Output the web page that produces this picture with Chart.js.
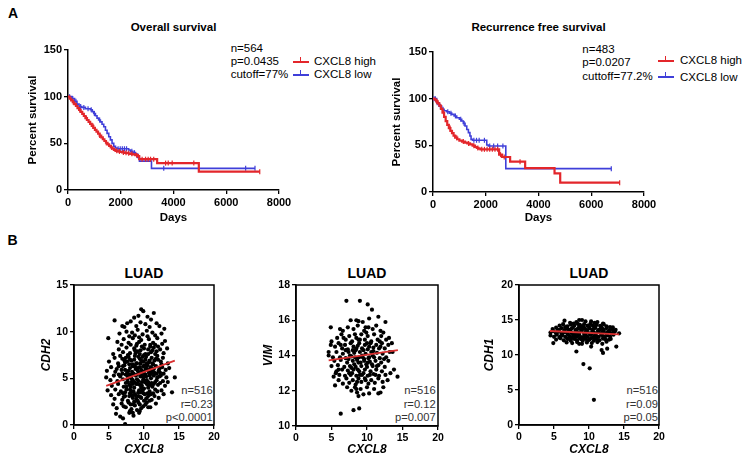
<!DOCTYPE html>
<html>
<head>
<meta charset="utf-8">
<script src="https://cdn.jsdelivr.net/npm/chart.js@4.4.1/dist/chart.umd.min.js"></script>
<style>
  body { margin: 0; background: #fff; }
  #fig { position: relative; width: 750px; height: 462px; overflow: hidden; background: #fff;
         font-family: "Liberation Sans", Arial, sans-serif; color: #000; }
  canvas { position: absolute; }
  .t { position: absolute; white-space: nowrap; line-height: 1; }
  .b { font-weight: bold; }
  .c { transform: translateX(-50%); }
  .r { transform: translateX(-100%); }
  .st { font-size: 11.5px; }
  .an { font-size: 11.2px; color: #333; }
  .ttl { font-size: 11.5px; font-weight: bold; }
  .luad { font-size: 14px; font-weight: bold; }
  .sw { position: absolute; width: 16px; height: 0; border-top: 2px solid currentColor; }
  .sw::after { content: ''; position: absolute; left: 7px; top: -6px; height: 5px; border-left: 1.5px solid currentColor; }
</style>
</head>
<body>
<div id="fig">
  <div class="t b" style="left:8px;top:6.4px;font-size:14px">A</div>
  <div class="t b" style="left:7.5px;top:233px;font-size:14px">B</div>

  <div class="t ttl c" style="left:173.5px;top:22px">Overall survival</div>
  <div class="t ttl c" style="left:538.5px;top:22px">Recurrence free survival</div>

  <div class="t st" style="left:230.7px;top:42.7px">n=564</div>
  <div class="t st" style="left:230.7px;top:56.1px">p=0.0435</div>
  <div class="t st" style="left:230.7px;top:69.4px">cutoff=77%</div>
  <div class="sw" style="left:293px;top:60.7px;color:#e3262b"></div>
  <div class="sw" style="left:293px;top:74px;color:#3f3fd9"></div>
  <div class="t st" style="left:314px;top:56.1px">CXCL8 high</div>
  <div class="t st" style="left:314px;top:69.4px">CXCL8 low</div>

  <div class="t st" style="left:582.3px;top:44.4px">n=483</div>
  <div class="t st" style="left:582.3px;top:57.1px">p=0.0207</div>
  <div class="t st" style="left:582.3px;top:71.1px">cuttoff=77.2%</div>
  <div class="sw" style="left:658px;top:60px;color:#e3262b"></div>
  <div class="sw" style="left:658px;top:76.3px;color:#3f3fd9"></div>
  <div class="t st" style="left:680px;top:55.4px">CXCL8 high</div>
  <div class="t st" style="left:680px;top:71.7px">CXCL8 low</div>

  <div class="t luad c" style="left:144px;top:266px">LUAD</div>
  <div class="t luad c" style="left:367px;top:266px">LUAD</div>
  <div class="t luad c" style="left:589px;top:266px">LUAD</div>

  <div class="t an r" style="left:212.7px;top:385px">n=516</div>
  <div class="t an r" style="left:212.7px;top:398.5px">r=0.23</div>
  <div class="t an r" style="left:212.7px;top:411.8px">p&lt;0.0001</div>
  <div class="t an r" style="left:435.7px;top:385px">n=516</div>
  <div class="t an r" style="left:435.7px;top:398.5px">r=0.12</div>
  <div class="t an r" style="left:435.7px;top:411.8px">p=0.007</div>
  <div class="t an r" style="left:658px;top:385px">n=516</div>
  <div class="t an r" style="left:658px;top:398.5px">r=0.09</div>
  <div class="t an r" style="left:658px;top:411.8px">p=0.05</div>

  <canvas id="os" width="294" height="195" style="left:0px;top:30px"></canvas>
  <canvas id="rfs" width="284" height="195" style="left:375px;top:30px"></canvas>
  <canvas id="cdh2" width="194" height="182" style="left:30px;top:275px"></canvas>
  <canvas id="vim" width="198" height="182" style="left:250px;top:275px"></canvas>
  <canvas id="cdh1" width="194" height="182" style="left:475px;top:275px"></canvas>
</div>
<script>
// Kaplan-Meier steps (days, percent surviving)
const osHighDays = [0,60,120,180,240,300,360,420,480,540,600,660,720,780,840,900,960,1020,1080,1140,1200,1260,1320,1380,1440,1500,1560,1620,1680,1740,1800,1880,1960,2050,2150,2250,2350,2450,2550,2650,2700,3380,4960,7270];
const osHighPct = [100,98,96,94,92,90,87.8,85.7,83.6,81.5,79.3,77.1,75,73,70.8,68.7,66.5,64.5,62.5,60.3,58.3,56.3,54.4,52.5,50.6,48.8,47.2,45.7,44.3,43,42,41.3,40.8,40.3,39.8,39.4,38.8,38.1,37.3,36.2,33,28.8,19.6,19.6];
const osHighCensor = [200,450,700,950,1200,1450,1650,1850,1950,2100,2200,2300,2420,2600,2810,2940,3040,3130,3250,3700,3800,3950,4770,7270];

const osLowDays = [0,150,250,340,420,520,660,850,920,975,1040,1100,1160,1228,1290,1355,1420,1481,1545,1608,1670,1734,1800,1861,2300,2367,2460,2557,2640,2709,3165,7090];
const osLowPct = [100,98,95,92,89.5,88.5,87,86,84,82,79.5,77,75,73,70.5,67.7,64,60.7,57,53.7,50,46.7,45,44.2,42.8,41.4,40,38.6,35,30.9,23.2,23.2];
const osLowCensor = [60,180,300,480,600,760,880,1000,1200,1900,1980,2060,2140,2220,2420,2520,3630,6735,7090];

const rfsHighDays = [0,60,120,180,240,300,360,420,480,540,600,660,720,780,840,920,1000,1100,1215,1300,1405,1500,1595,1660,1722,1800,2507,2620,2924,3494,4608,4823,7077];
const rfsHighPct = [100,99,97,95,92.5,89,85,80.5,76,72,68.5,65.5,63,60.5,58.2,56.5,55,54,52.9,52,51,49.6,48.2,47.2,46.4,45.7,40,37.5,32.5,25.5,20,10,10];
const rfsHighCensor = [150,400,650,900,1150,1350,1550,1700,1850,1950,2050,2150,2250,2350,2450,2560,2700,3300,7077];

const rfsLowDays = [0,139,230,329,420,519,620,709,800,899,1000,1089,1150,1215,1280,1342,1400,1443,1500,2038,2100,2760,6760];
const rfsLowPct = [100,95.7,92,88.6,87,86,84.5,83.2,81.5,79.6,78,76,73.5,70.7,67,63.6,60,56.4,55.4,50.4,49.3,25,25];
const rfsLowCensor = [40,90,160,280,380,560,680,850,1050,1180,1550,1650,1750,1950,2150,2300,2450,2650,6760];

// scatter points [CXCL8, gene]
const cdh2Pts = [[9.6,12.4],[9.9,12.2],[11.4,12.0],[8.6,11.5],[10.5,11.6],[11.0,11.3],[9.2,11.7],
  [5.8,11.2],[7.6,10.9],[8.1,11.1],[9.5,11.0],[10.2,10.8],[11.8,10.9],[12.2,10.6],[7.2,10.5],[8.9,10.6],[10.8,10.5],[6.9,10.6],
  [6.5,9.8],[7.5,10.0],[8.3,9.9],[9.1,10.2],[9.8,9.7],[10.4,10.1],[11.2,9.9],[12.5,9.8],[12.9,10.3],[8.7,9.6],[11.6,9.6],[7.9,9.5],
  [4.9,9.3],[6.2,8.9],[7.1,9.2],[7.8,8.8],[8.4,9.3],[9.0,8.7],[9.6,9.1],[10.1,8.6],[10.7,9.2],[11.3,8.8],[11.9,9.3],[12.6,8.7],[13.0,9.0],[8.1,8.6],[9.3,9.4],[10.9,8.6],[6.8,8.6],
  [5.6,7.6],[6.4,8.1],[7.0,7.8],[7.5,8.3],[8.0,7.7],[8.6,8.2],[9.1,7.9],[9.7,8.4],[10.2,7.6],[10.6,8.1],[11.0,7.8],[11.4,8.3],[11.8,7.9],[12.3,8.1],[12.8,7.7],[13.3,8.2],[9.4,7.6],[10.9,8.4],[7.7,7.5],[8.9,8.5],[11.6,7.6],[12.0,8.4],
  [5.0,6.8],[5.8,7.2],[6.3,6.6],[6.9,7.1],[7.3,6.7],[7.8,7.3],[8.2,6.9],[8.7,7.4],[9.0,6.6],[9.4,7.1],[9.9,6.8],[10.3,7.3],[10.7,6.7],[11.1,7.2],[11.5,6.9],[11.9,7.4],[12.4,6.8],[12.7,7.2],[13.4,6.6],[8.4,6.5],[10.0,7.5],[11.3,6.5],[6.6,7.4],[9.6,6.9],
  [4.7,5.8],[5.3,6.2],[5.9,5.7],[6.4,6.3],[6.8,5.9],[7.2,6.4],[7.6,5.6],[8.0,6.1],[8.3,5.7],[8.7,6.3],[9.1,5.8],[9.4,6.2],[9.8,5.6],[10.1,6.4],[10.5,5.9],[10.9,6.1],[11.3,5.7],[11.7,6.3],[12.1,5.8],[12.6,6.2],[13.1,5.9],[13.6,6.1],[7.9,6.5],[9.6,5.9],[11.0,5.5],[8.5,5.5],[10.3,6.1],[12.3,5.6],
  [4.6,5.1],[5.2,4.8],[5.7,5.3],[6.2,4.7],[6.6,5.2],[7.0,4.9],[7.4,5.4],[7.7,4.6],[8.1,5.1],[8.4,4.8],[8.8,5.3],[9.2,4.7],[9.5,5.2],[9.9,4.9],[10.2,5.4],[10.6,4.6],[11.0,5.0],[11.4,5.3],[11.8,4.8],[12.2,5.2],[12.7,4.7],[13.2,5.1],[14.4,5.1],[7.9,5.4],[9.7,4.6],[10.8,5.3],[8.6,4.6],[6.4,5.4],[11.6,4.6],
  [4.8,3.7],[5.4,4.2],[5.9,3.8],[6.3,4.4],[6.7,3.6],[7.1,4.1],[7.5,3.8],[7.9,4.3],[8.2,3.6],[8.6,4.0],[9.0,4.4],[9.3,3.7],[9.7,4.2],[10.0,3.9],[10.4,4.4],[10.8,3.6],[11.2,4.1],[11.6,3.8],[12.0,4.3],[12.5,3.7],[13.0,4.2],[14.0,3.5],[8.4,4.4],[9.5,3.5],[10.6,4.0],[7.3,3.5],[11.9,3.6],
  [5.3,3.2],[5.8,2.8],[6.4,3.3],[6.9,2.7],[7.3,3.1],[7.7,2.6],[8.0,3.4],[8.4,2.9],[8.8,3.2],[9.1,2.6],[9.5,3.0],[9.9,3.4],[10.3,2.8],[10.7,3.2],[11.1,2.7],[11.5,3.1],[12.1,2.9],[12.8,3.3],[8.6,2.5],[10.0,2.6],[7.0,3.4],
  [5.6,2.2],[6.1,1.8],[6.8,2.3],[7.4,1.9],[7.8,2.4],[8.2,1.7],[8.7,2.1],[9.2,2.4],[9.6,1.8],[10.2,2.2],[10.9,1.9],[11.7,2.3],[8.0,1.5],[9.0,1.6],
  [6.0,1.2],[6.6,0.9],[7.3,0.1],[7.9,1.3],[8.5,1.0],[9.3,1.3],[7.0,0.7],
  [8.2,5.0],[8.9,4.4],[9.3,5.6],[9.9,5.2],[10.4,4.8],[10.7,5.6],[8.5,3.6],[9.2,3.1],[9.8,3.7],[10.5,3.4],[8.8,6.0],[9.5,6.6],[10.2,6.0],[10.8,6.9],[7.6,4.9],[7.3,5.9],[8.1,4.1],[11.1,4.5],[11.4,6.0],[8.6,7.0],[9.2,7.3],[10.6,7.6],[11.2,8.0],[12.0,7.0],[7.9,3.1],[8.9,2.8],[10.4,2.4],[11.3,3.4],[7.6,6.8],[9.0,5.4],
  [7.4,4.5],[8.3,5.4],[9.4,4.3],[10.1,4.6],[10.9,4.3],[11.5,5.6],[12.4,5.3],[7.2,6.9],[8.0,7.0],[9.8,7.3],[10.4,6.6],[11.7,7.1],[8.7,8.0],[10.0,8.2],[9.3,8.9],[10.5,9.5],[7.4,7.2],[6.9,5.5],[6.1,6.0],[12.8,5.5],[12.3,4.5],[13.4,4.6],[11.0,3.3],[9.6,2.9],[8.1,2.2],[7.1,2.0],[10.6,1.9],[9.9,6.3],[8.9,6.6],[11.6,8.6],
  [7.8,5.8],[8.4,6.3],[9.0,4.9],[9.6,4.0],[10.3,5.2],[10.9,5.8],[11.2,6.6],[8.0,3.8],[8.7,3.3],[9.4,2.2],[10.1,3.3],[10.8,2.6],[11.4,4.4],[7.5,4.1],[8.2,4.6],[9.1,6.1],[9.7,5.5],[10.5,6.4],[11.8,5.5],[12.5,6.5],[8.5,2.2],[9.9,2.0],[7.1,3.0],[11.0,6.2],[8.8,7.7],[10.2,7.0],[9.5,8.0],[12.2,6.0],[7.7,5.2],[10.6,4.3],[9.2,3.5],[8.3,3.2],[10.0,5.7],[11.9,5.1],[7.0,6.3],[9.4,1.5],[8.4,1.3],[10.5,3.0]];

const vimPts = [[7.1,17.1],[9.0,17.1],[10.1,16.9],[10.7,16.6],
  [8.5,16.0],[8.8,15.95],[11.6,16.2],[12.6,15.9],[10.3,16.1],[9.4,15.9],[7.7,16.0],
  [4.9,15.6],[6.6,15.4],[7.3,15.6],[8.1,15.5],[8.7,15.7],[9.6,15.4],[10.2,15.6],[10.8,15.5],[11.3,15.7],[11.9,15.4],[12.3,15.3],[6.2,15.5],
  [5.8,15.0],[6.4,15.2],[7.0,14.9],[7.5,15.1],[7.9,14.8],[8.3,15.2],[8.8,14.9],[9.2,15.2],[9.7,14.9],[10.1,15.1],[10.6,14.8],[11.0,15.2],[11.5,14.9],[12.0,15.1],[12.7,14.9],[13.1,15.0],[5.0,14.8],[8.5,15.0],[9.9,15.3],[11.8,14.8],
  [4.9,14.6],[5.5,14.5],[6.0,14.7],[6.5,14.4],[6.9,14.6],[7.3,14.35],[7.7,14.7],[8.1,14.5],[8.5,14.4],[8.9,14.7],[9.3,14.4],[9.7,14.6],[10.1,14.35],[10.5,14.7],[10.9,14.45],[11.3,14.6],[11.7,14.4],[12.1,14.7],[12.5,14.4],[13.0,14.6],[13.5,14.7],[8.7,14.55],[10.3,14.5],[6.3,14.6],
  [4.6,14.2],[4.6,14.0],[5.2,13.9],[5.7,14.2],[6.2,13.9],[6.6,14.1],[7.0,13.85],[7.4,14.2],[7.8,13.95],[8.2,14.15],[8.6,13.85],[9.0,14.2],[9.4,13.9],[9.8,14.1],[10.2,13.85],[10.6,14.2],[11.0,13.9],[11.4,14.15],[11.8,13.85],[12.2,14.1],[12.7,13.9],[13.2,14.2],[8.4,14.3],[9.6,13.8],[10.9,14.25],[7.2,14.3],
  [5.0,13.4],[5.4,13.7],[5.9,13.45],[6.3,13.75],[6.8,13.35],[7.2,13.6],[7.6,13.4],[8.0,13.7],[8.4,13.35],[8.8,13.6],[9.2,13.4],[9.6,13.7],[10.0,13.35],[10.4,13.65],[10.8,13.4],[11.2,13.7],[11.6,13.45],[12.0,13.6],[12.5,13.35],[13.0,13.7],[13.8,13.2],[8.6,13.75],[9.9,13.5],[7.4,13.8],
  [5.3,12.8],[5.7,13.1],[6.1,12.9],[6.5,13.2],[6.9,12.85],[7.3,13.15],[7.7,12.9],[8.1,13.2],[8.5,12.85],[8.9,13.1],[9.3,12.9],[9.7,13.2],[10.1,12.85],[10.5,13.1],[10.9,12.95],[11.3,13.2],[11.7,12.85],[12.1,13.1],[12.6,12.9],[13.3,13.0],[14.3,12.8],[9.5,13.0],[7.9,13.0],
  [5.5,12.3],[6.0,12.6],[6.6,12.4],[7.1,12.7],[7.5,12.45],[8.0,12.6],[8.4,12.35],[8.8,12.7],[9.2,12.5],[9.7,12.7],[10.2,12.4],[10.6,12.6],[11.1,12.45],[11.6,12.7],[12.2,12.5],[12.9,12.6],[8.6,12.5],
  [7.2,12.2],[7.8,12.0],[8.3,12.2],[8.6,11.9],[9.1,12.1],[9.5,11.8],[10.3,11.85],[10.0,12.2],[11.0,12.1],[11.6,11.85],[11.9,11.9],[8.8,11.7],
  [6.3,10.7],[8.1,10.9],[8.9,11.0],
  [8.3,13.9],[9.1,13.6],[9.5,14.3],[8.7,13.2],[10.3,13.9],[10.0,14.7],[7.6,14.0],[9.0,12.9],[10.7,13.5],[8.0,14.3],[9.8,12.6],[11.4,13.4],
  [8.2,13.5],[9.3,14.0],[10.1,13.6],[10.8,14.0],[9.0,14.9],[7.8,13.3],[11.2,12.9],[8.5,12.1],[9.8,15.6],[7.0,14.3],[6.0,13.2],[12.4,13.8],[13.6,14.2],[12.3,12.2],[7.5,13.0],[10.4,12.9],[8.9,13.9],[11.9,14.5],[6.7,15.0],[5.6,13.0]];

const cdh1Pts = [[6.5,14.9],[8.6,15.0],[9.0,15.0],[7.3,14.6],[8.2,14.7],[9.5,14.8],[10.3,14.8],[11.2,14.7],[10.8,14.6],[7.8,14.5],[12.0,14.5],
  [5.8,14.2],[6.3,14.4],[6.9,14.1],[7.4,14.35],[7.9,14.2],[8.4,14.45],[8.9,14.1],[9.3,14.4],[9.8,14.2],[10.2,14.45],[10.7,14.1],[11.1,14.3],[11.6,14.15],[12.1,14.4],[12.5,14.1],[13.0,14.0],[13.4,13.95],[8.7,14.3],[10.0,14.0],[6.6,14.0],
  [4.8,13.7],[5.3,13.9],[5.7,13.6],[6.1,13.85],[6.5,13.55],[6.9,13.8],[7.3,13.6],[7.7,13.9],[8.1,13.55],[8.5,13.8],[8.9,13.6],[9.3,13.9],[9.7,13.55],[10.1,13.8],[10.5,13.6],[10.9,13.9],[11.3,13.55],[11.7,13.8],[12.1,13.6],[12.5,13.85],[12.9,13.55],[13.3,13.7],[13.8,13.6],[8.3,13.7],[9.5,13.7],[10.7,13.75],[7.5,13.75],[11.9,13.7],
  [4.5,13.2],[4.9,13.4],[5.3,13.1],[5.7,13.35],[6.1,13.05],[6.5,13.3],[6.9,13.1],[7.3,13.4],[7.7,13.05],[8.1,13.3],[8.5,13.1],[8.9,13.4],[9.3,13.05],[9.7,13.3],[10.1,13.1],[10.5,13.4],[10.9,13.05],[11.3,13.3],[11.7,13.1],[12.1,13.4],[12.5,13.05],[12.9,13.3],[13.3,13.1],[13.7,13.35],[14.3,13.1],[8.3,13.2],[9.5,13.25],[10.7,13.2],[7.5,13.2],[11.9,13.25],[6.3,13.2],
  [4.5,12.8],[5.0,12.6],[5.4,12.9],[5.8,12.55],[6.2,12.85],[6.6,12.6],[7.0,12.9],[7.4,12.55],[7.8,12.8],[8.2,12.6],[8.6,12.9],[9.0,12.55],[9.4,12.85],[9.8,12.6],[10.2,12.9],[10.6,12.55],[11.0,12.8],[11.4,12.6],[11.8,12.9],[12.2,12.55],[12.6,12.8],[13.0,12.65],[13.5,12.9],[8.4,12.75],[9.6,12.75],[10.8,12.7],[7.2,12.75],[12.0,12.7],
  [5.3,12.2],[5.9,12.4],[6.4,12.1],[6.9,12.35],[7.4,12.05],[7.9,12.3],[8.3,12.1],[8.7,12.4],[9.1,12.05],[9.5,12.3],[9.9,12.1],[10.3,12.4],[10.7,12.05],[11.1,12.3],[11.5,12.1],[12.0,12.35],[12.5,12.1],[13.1,12.3],[8.9,12.25],[10.1,12.25],
  [4.9,11.7],[6.8,11.8],[7.6,11.7],[8.3,11.85],[9.0,11.6],[9.7,11.8],[10.4,11.7],[11.2,11.85],[11.9,11.6],[12.5,11.9],[8.6,11.6],
  [8.2,10.5],[9.2,8.7],[10.1,8.1],[10.7,3.6],[13.9,11.2],[12.6,10.9],[11.8,10.7],[12.0,10.3],[10.3,11.2],
  [7.1,13.5],[8.0,13.0],[9.1,13.7],[10.3,13.0],[11.5,13.6],[12.7,13.3],[6.0,12.7],[7.6,12.45],[9.2,12.4],[10.9,12.4],[12.3,12.3],[8.6,14.05],[10.5,14.25],[11.8,13.95],[5.5,13.5],[13.5,13.4],[12.9,12.2],[7.0,12.3]];

// fitted lines, end points as drawn
const cdh2Fit = [[4.6,4.2],[14.4,6.9]];
const vimFit = [[4.6,13.72],[14.35,14.3]];
const cdh1Fit = [[4.4,13.43],[14.3,12.95]];

const RED = '#e3262b';
const BLUE = '#3f3fd9';
const FAMILY = '"Liberation Sans", Arial, sans-serif';
Chart.defaults.font.family = FAMILY;
Chart.defaults.color = '#000';

function kmLine(days, pct) {
  return days.map((d, i) => ({x: d, y: pct[i]}));
}

// survival level at a given day (last step at or before it)
function kmLevel(days, pct, day) {
  let v = pct[0];
  for (let i = 0; i < days.length; i++) {
    if (days[i] <= day) v = pct[i];
  }
  return v;
}

function kmCensor(days, pct, marks) {
  return marks.map(d => ({x: d, y: kmLevel(days, pct, d)}));
}

function axisStyle(fontSize) {
  return {
    grid: {drawOnChartArea: false, drawTicks: true, tickLength: 4, color: '#000', lineWidth: 1.3},
    border: {display: true, color: '#000', width: 1.5},
    ticks: {font: {size: fontSize, weight: 'bold'}, color: '#000', padding: 2, callback: v => String(v)}
  };
}

function kmChart(id, high, low, pad, yw, xh) {
  const xs = axisStyle(11);
  const ys = axisStyle(11);
  new Chart(document.getElementById(id), {
    type: 'line',
    data: {
      datasets: [
        {data: kmLine(high.days, high.pct), borderColor: RED, borderWidth: 2.2, stepped: true, pointRadius: 0},
        {type: 'scatter', data: kmCensor(high.days, high.pct, high.censor), pointStyle: 'line', rotation: 90,
          pointRadius: 2.5, borderColor: RED, pointBorderColor: RED, pointBorderWidth: 1.2},
        {data: kmLine(low.days, low.pct), borderColor: BLUE, borderWidth: 1.6, stepped: true, pointRadius: 0},
        {type: 'scatter', data: kmCensor(low.days, low.pct, low.censor), pointStyle: 'line', rotation: 90,
          pointRadius: 2.5, borderColor: BLUE, pointBorderColor: BLUE, pointBorderWidth: 1.2}
      ]
    },
    options: {
      responsive: false,
      animation: false,
      events: [],
      layout: {padding: pad},
      plugins: {legend: {display: false}, tooltip: {enabled: false}},
      scales: {
        x: {
          type: 'linear', min: 0, max: 8000,
          grid: xs.grid, border: xs.border,
          ticks: Object.assign({}, xs.ticks, {stepSize: 2000, padding: 2.5}),
          title: {display: true, text: 'Days', font: {size: 11.5, weight: 'bold'}, padding: 0, color: '#000'},
          afterFit: s => { s.height = xh; }
        },
        y: {
          type: 'linear', min: 0, max: 150,
          grid: ys.grid, border: ys.border,
          ticks: Object.assign({}, ys.ticks, {stepSize: 50}),
          title: {display: true, text: 'Percent survival', font: {size: 11.5, weight: 'bold'}, padding: 0, color: '#000'},
          afterFit: s => { s.width = yw; }
        }
      }
    }
  });
}

const framePlugin = {
  id: 'frame',
  afterDatasetsDraw(chart) {
    const {ctx, chartArea: a} = chart;
    ctx.save();
    ctx.strokeStyle = '#000';
    ctx.lineWidth = 1.5;
    ctx.strokeRect(a.left, a.top, a.right - a.left, a.bottom - a.top);
    ctx.restore();
  }
};

function scatterChart(id, pts, fit, yMin, yMax, yStep, yTitle, pad, yw, xh) {
  const st = axisStyle(10.5);
  new Chart(document.getElementById(id), {
    type: 'scatter',
    data: {
      datasets: [
        {type: 'line', data: fit.map(p => ({x: p[0], y: p[1]})), borderColor: '#d93030', borderWidth: 1.8, pointRadius: 0},
        {data: pts.map(p => ({x: p[0], y: p[1]})), pointRadius: 2.1, pointBackgroundColor: '#000', pointBorderWidth: 0}
      ]
    },
    options: {
      responsive: false,
      animation: false,
      events: [],
      layout: {padding: pad},
      plugins: {legend: {display: false}, tooltip: {enabled: false}},
      scales: {
        x: {
          type: 'linear', min: 0, max: 20,
          grid: st.grid, border: st.border,
          ticks: Object.assign({}, st.ticks, {stepSize: 5}),
          title: {display: true, text: 'CXCL8', font: {size: 12, weight: 'bold', style: 'italic'}, padding: 0, color: '#000'},
          afterFit: s => { s.height = xh; }
        },
        y: {
          type: 'linear', min: yMin, max: yMax,
          grid: st.grid, border: st.border,
          ticks: Object.assign({}, st.ticks, {stepSize: yStep}),
          title: {display: true, text: yTitle, font: {size: 12, weight: 'bold', style: 'italic'}, padding: 0, color: '#000'},
          afterFit: s => { s.width = yw; }
        }
      }
    },
    plugins: [framePlugin]
  });
}

kmChart('os',
  {days: osHighDays, pct: osHighPct, censor: osHighCensor},
  {days: osLowDays, pct: osLowPct, censor: osLowCensor},
  {left: 26.4, top: 20, right: 15, bottom: 0}, 41.6, 35);

kmChart('rfs',
  {days: rfsHighDays, pct: rfsHighPct, censor: rfsHighCensor},
  {days: rfsLowDays, pct: rfsLowPct, censor: rfsLowCensor},
  {left: 15.4, top: 22, right: 15, bottom: 0}, 42.6, 33);

scatterChart('cdh2', cdh2Pts, cdh2Fit, 0, 15, 5, 'CDH2', {left: 9.5, top: 10, right: 10, bottom: 0}, 34.5, 32);
scatterChart('vim', vimPts, vimFit, 10, 18, 2, 'VIM', {left: 11.1, top: 10, right: 10, bottom: 0}, 34.9, 31);
scatterChart('cdh1', cdh1Pts, cdh1Fit, 0, 20, 5, 'CDH1', {left: 7.8, top: 10, right: 10, bottom: 0}, 36.2, 32);
</script>
</body>
</html>
